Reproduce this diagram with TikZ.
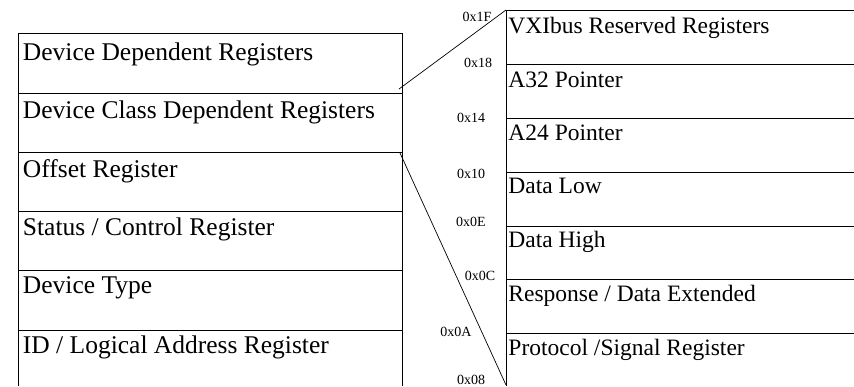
\documentclass[tikz,border=0pt]{standalone}
\usepackage{fontspec}
\setmainfont{Liberation Serif}
\begin{document}
\begin{tikzpicture}[x=1pt,y=-1pt,line width=0.9pt,
  big/.style={anchor=base west,inner sep=0pt,font=\fontsize{25.5}{30}\selectfont},
  mid/.style={anchor=base west,inner sep=0pt,font=\fontsize{23.5}{28}\selectfont},
  hex/.style={anchor=center,inner sep=0pt,font=\fontsize{14}{16}\selectfont},
  rule/.style={draw=black,line width=0.9pt}]
\useasboundingbox (0,0) rectangle (854,386);
% left register stack
\coordinate (LTL) at (18,33);
\coordinate (LTR) at (402,33);
\coordinate (LBL) at (18,386);
\coordinate (LBR) at (402,386);
\draw[rule] (LBL) -- (LTL) -- (LTR) -- (LBR);
\foreach \y/\n in {93/l1,152/l2,211/l3,270/l4,330/l5}{
  \coordinate (\n a) at (18,\y); \coordinate (\n b) at (402,\y);
  \draw[rule] (\n a) -- (\n b);
}
\node[big] (dd) at (22.5,60) {Device Dependent Registers};
\node[big] (dcd) at (22.5,118) {Device Class Dependent Registers};
\node[big] (off) at (22.5,177) {Offset Register};
\node[big] (sc) at (22.5,235) {Status / Control Register};
\node[big] (dt) at (22.5,293) {Device Type};
\node[big] (id) at (22.5,353) {ID / Logical Address Register};
% right register stack
\coordinate (RTL) at (506,10);
\coordinate (RTR) at (854,10);
\coordinate (RBL) at (506,386);
\draw[rule] (RBL) -- (RTL) -- (RTR);
\foreach \y/\n in {64/r1,118/r2,172/r3,226/r4,279/r5,333/r6}{
  \coordinate (\n a) at (506,\y); \coordinate (\n b) at (854,\y);
  \draw[rule] (\n a) -- (\n b);
}
\node[mid] (vxi) at (508,33) {VXIbus Reserved Registers};
\node[mid] (a32) at (508,87) {A32 Pointer};
\node[mid] (a24) at (508,140) {A24 Pointer};
\node[mid] (dl) at (508,193) {Data Low};
\node[mid] (dh) at (508,247) {Data High};
\node[mid] (rde) at (508,301) {Response / Data Extended};
\node[mid] (psr) at (508,355) {Protocol /Signal Register};
% hex offsets
\node[hex] (h1f) at (477,17) {0x1F};
\node[hex] (h18) at (478,63) {0x18};
\node[hex] (h14) at (471,118) {0x14};
\node[hex] (h10) at (471,174) {0x10};
\node[hex] (h0e) at (471,222) {0x0E};
\node[hex] (h0c) at (480,276) {0x0C};
\node[hex] (h0a) at (456,332) {0x0A};
\node[hex] (h08) at (471,380) {0x08};
% expansion lines
\coordinate (e1) at (399,89);
\coordinate (e2) at (400,153);
\coordinate (e3) at (506,385);
\draw[line width=0.7pt] (RTL) -- (e1);
\draw[line width=0.7pt] (e2) -- (e3);
\end{tikzpicture}
\end{document}
